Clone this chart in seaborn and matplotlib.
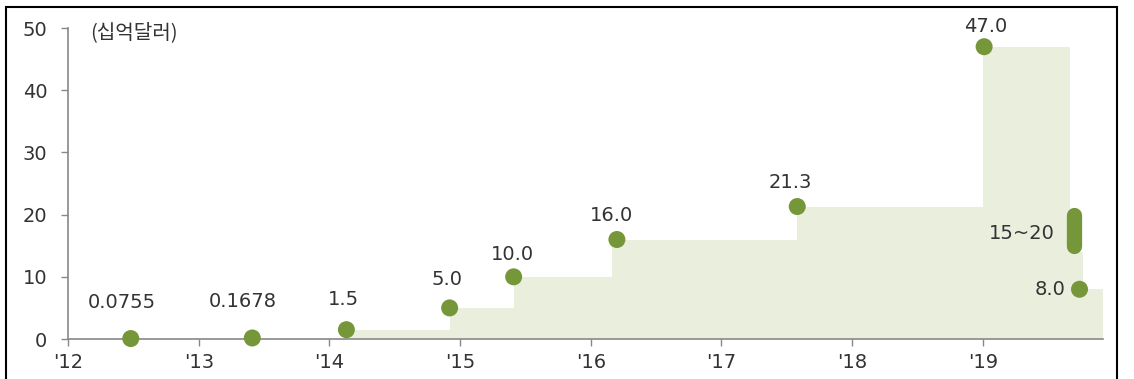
import matplotlib
matplotlib.use("Agg")
import matplotlib.pyplot as plt
import seaborn as sns
import pandas as pd
from matplotlib.patches import Rectangle

# data
dot_x = [2012.48, 2013.41, 2014.13, 2014.92, 2015.41, 2016.20, 2017.58, 2019.01, 2019.74]
dot_y = [0.0755, 0.1678, 1.5, 5.0, 10.0, 16.0, 21.3, 47.0, 8.0]
dot_labels = ["0.0755", "0.1678", "1.5", "5.0", "10.0", "16.0", "21.3", "47.0", "8.0"]

step_x = [2014.13, 2014.92, 2015.41, 2016.16, 2017.58, 2019.0, 2019.67, 2019.77, 2019.92]
step_y = [1.5, 5.0, 10.0, 16.0, 21.3, 47.0, 14.0, 8.0, 8.0]

range_x = 2019.70
range_lo, range_hi = 15.0, 20.0
range_label = "15~20"

year_ticks = [2012, 2013, 2014, 2015, 2016, 2017, 2018, 2019]
year_labels = ["'12", "'13", "'14", "'15", "'16", "'17", "'18", "'19"]
y_ticks = [0, 10, 20, 30, 40, 50]

sns.set_style("ticks")
plt.rcParams['font.family'] = ['DejaVu Sans', 'Noto Sans CJK KR']

fill_col = "#E9EEDD"
dot_col = "#76963A"
text_col = "#333333"
axis_col = "#888888"
fs = 14

fig = plt.figure(figsize=(11.34, 3.79), dpi=100)
ax = fig.add_axes([0.060, 0.1055, 0.9127, 0.8205])

# step area
ax.fill_between(step_x, step_y, 0, step="post", color=fill_col, lw=0, zorder=1)

# range bar 15~20
ax.plot([range_x, range_x], [range_lo, range_hi], color=dot_col, lw=11,
        solid_capstyle="round", zorder=3)

df = pd.DataFrame({"x": dot_x, "y": dot_y, "label": dot_labels})
sns.scatterplot(data=df, x="x", y="y", color=dot_col, s=150, edgecolor="none",
                ax=ax, zorder=4, clip_on=False)

# labels (offsets in pixels)
offsets = [(-9, 36), (-10, 36), (-3, 30), (-3, 28), (-1, 22), (-5, 24), (-7, 24), (2, 20)]
for (x, y, lab), (dx, dy) in zip(zip(dot_x, dot_y, dot_labels), offsets):
    ax.annotate(lab, (x, y), xytext=(dx, dy), textcoords="offset pixels",
                ha="center", va="center", fontsize=fs, color=text_col)
ax.annotate(dot_labels[-1], (dot_x[-1], dot_y[-1]), xytext=(-14, 0),
            textcoords="offset pixels", ha="right", va="center",
            fontsize=fs, color=text_col)
ax.annotate(range_label, (range_x, (range_lo + range_hi) / 2), xytext=(-20, -3),
            textcoords="offset pixels", ha="right", va="center",
            fontsize=fs, color=text_col)

ax.text(0.021, 0.985, "(십억달러)", transform=ax.transAxes, ha="left", va="center",
        fontsize=14.5, color=text_col, family=['Noto Sans CJK KR', 'DejaVu Sans'])

ax.set_xlim(2012, 2019.92)
ax.set_ylim(0, 50)
ax.set_xticks(year_ticks)
ax.set_xticklabels(year_labels)
ax.set_yticks(y_ticks)
ax.set_xlabel("")
ax.set_ylabel("")
ax.tick_params(axis="both", colors=axis_col, labelcolor=text_col, labelsize=fs,
               length=5, width=1, direction="out", pad=5)
ax.tick_params(axis="y", pad=10)
for s in ["top", "right"]:
    ax.spines[s].set_visible(False)
for s in ["left", "bottom"]:
    ax.spines[s].set_color(axis_col)
    ax.spines[s].set_linewidth(1.2)

# outer frame
fig.patches.append(Rectangle((6 / 1134, -0.01), 1111 / 1134, 1 - 7 / 379 + 0.01,
                             transform=fig.transFigure, fill=False,
                             edgecolor="black", lw=1.5))

fig.savefig("out.png", dpi=100)
